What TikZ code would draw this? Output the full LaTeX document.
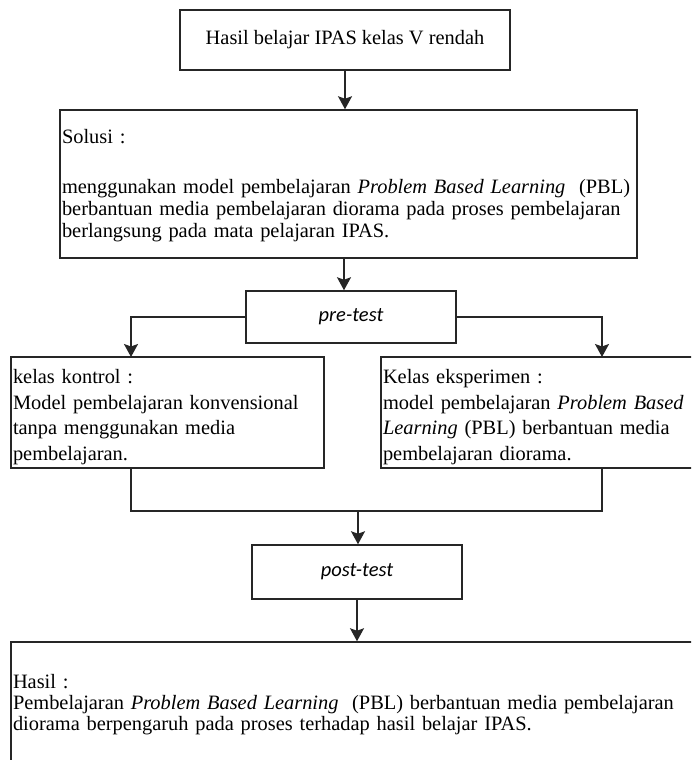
\documentclass[tikz,border=0pt]{standalone}
\usepackage{fontspec}
\setmainfont{Liberation Serif}
\newfontfamily\testfont{Carlito}
\usetikzlibrary{arrows.meta,calc}
\newcommand\mytshift[1]{\endgraf\vspace*{-#1}}
\begin{document}
\begin{tikzpicture}[x=1pt,y=-1pt,
  font=\fontsize{20.4}{25.5}\selectfont,
  box/.style={draw=black!85, line width=1.5pt, rectangle, inner xsep=2pt, inner ysep=0pt, fill=white},
  lbox/.style={box, align=left},
  tshift/.style={execute at end node={\mytshift{#1}}},
  tbox/.style={box, font=\fontsize{20.5}{24}\selectfont\testfont\itshape},
  conn/.style={draw=black!85, line width=1.5pt},
  arr/.style={conn, -{Stealth[length=13pt,width=14pt,inset=2.5pt]}}]
\useasboundingbox (0,0) rectangle (691,760);
\clip (0,0) rectangle (691,760);
\fill[white] (0,0) rectangle (691,760);

\node[box, minimum width=330pt, minimum height=60pt] (b1) at (345,40)
  {\raisebox{-1.5pt}{Hasil belajar IPAS kelas V rendah}};

\node[lbox, minimum width=577pt, minimum height=148pt, text width=573pt,
      font=\fontsize{20.4}{22}\selectfont, tshift=3pt] (sol) at (348.5,184)
  {Solusi :\\[28pt]
   menggunakan model pembelajaran \textit{Problem Based Learning}\ \ (PBL)\\
   berbantuan media pembelajaran diorama pada proses pembelajaran\\
   berlangsung pada mata pelajaran IPAS.};

\node[tbox, minimum width=210pt, minimum height=52pt] (pre) at (351,317)
  {\raisebox{-3pt}{pre-test}};

\node[lbox, minimum width=313pt, minimum height=111pt, text width=309pt, tshift=9pt] (kon) at (167.5,412.5)
  {kelas kontrol :\\
   Model pembelajaran konvensional\\
   tanpa menggunakan media\\
   pembelajaran.};

\node[lbox, minimum width=330pt, minimum height=111pt, text width=326pt, tshift=9pt] (eks) at (546,412.5)
  {Kelas eksperimen :\\
   model pembelajaran \textit{Problem Based}\\
   \textit{Learning} (PBL) berbantuan media\\
   pembelajaran diorama.};

\node[tbox, minimum width=210pt, minimum height=54pt] (post) at (357,572)
  {\raisebox{-2pt}{post-test}};

\node[lbox, minimum width=700pt, minimum height=120pt, text width=696pt,
      font=\fontsize{20.4}{21}\selectfont, tshift=6pt] (hasil) at (361,702)
  {Hasil :\\
   Pembelajaran \textit{Problem Based Learning}\ \ (PBL) berbantuan media pembelajaran\\
   diorama berpengaruh pada proses terhadap hasil belajar IPAS.};

\coordinate (kin) at (131,357);
\coordinate (ein) at (602,357);
\coordinate (jl) at (131,511);
\coordinate (jr) at (602,511);
\coordinate (jm) at (358,511);
\coordinate (ax) at (344,0);

\draw[arr] (b1.south) -- (b1.south |- sol.north);
\draw[arr] (ax |- sol.south) -- (ax |- pre.north);
\draw[arr] (pre.west) -| (kin);
\draw[arr] (pre.east) -| (ein);
\draw[conn] (kin |- kon.south) -- (jl) -- (jr) -- (ein |- eks.south);
\draw[arr] (jm) -- (jm |- post.north);
\draw[arr] (post.south) -- (post.south |- hasil.north);
\end{tikzpicture}
\end{document}
